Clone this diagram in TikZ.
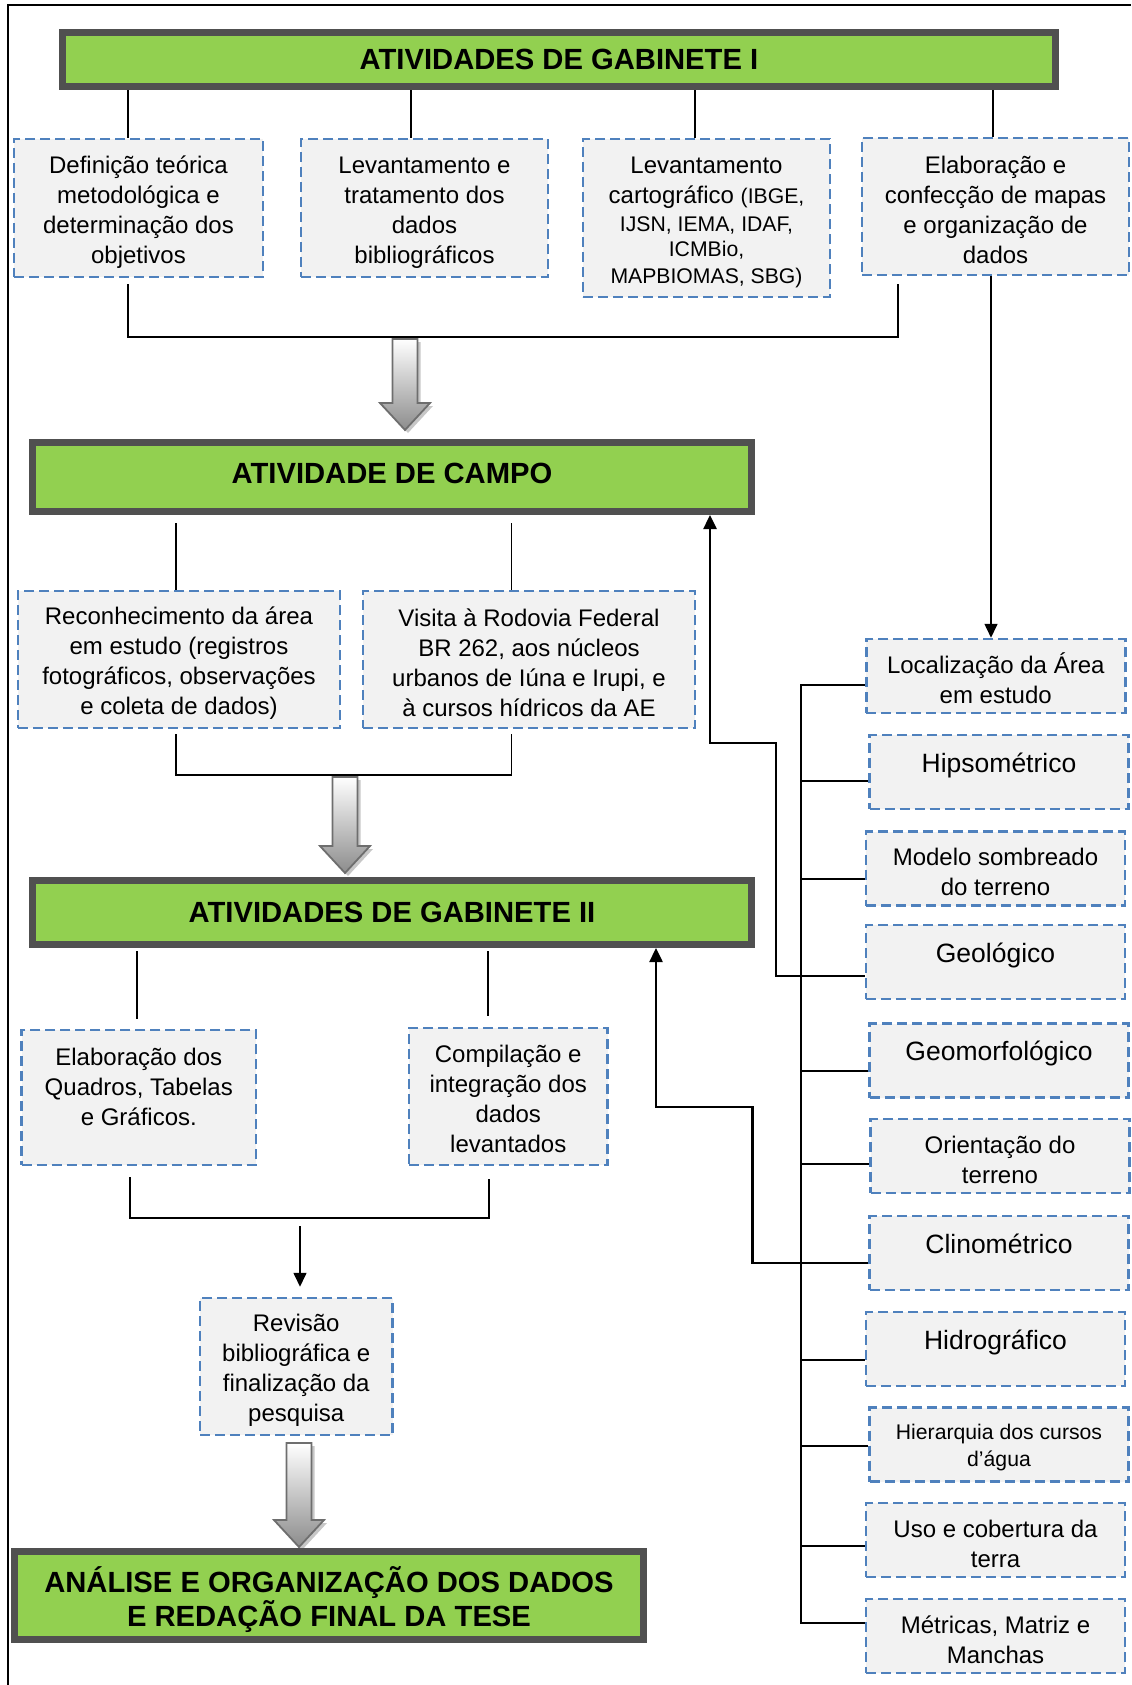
\documentclass[tikz,border=0pt]{standalone}
\usepackage{fontspec}
\setmainfont{Liberation Sans}
\usetikzlibrary{arrows.meta}

\definecolor{boxblue}{RGB}{79,129,189}
\definecolor{boxfill}{RGB}{242,242,242}
\definecolor{titlegreen}{RGB}{146,208,80}
\definecolor{titleedge}{RGB}{80,80,80}
\definecolor{arrowedge}{RGB}{110,110,110}

\newcommand\txtbody{\fontsize{12}{15}\selectfont}
\newcommand\txttitle{\fontsize{14.6}{17.2}\selectfont\bfseries}
\newcommand\txtsingle{\fontsize{13.25}{16}\selectfont}
\newcommand\txtsmall{\fontsize{10.6}{13.5}\selectfont}
% invisible rule that evens out the height of a first text line
\newcommand\tophang[1][12.5pt]{\rule{0pt}{#1}}

\tikzset{
  titlebox/.style={draw=titleedge, line width=3.5pt, fill=titlegreen,
    font=\txttitle, align=center, inner sep=0pt},
  dbox/.style={draw=boxblue, line width=1.25pt, dash pattern=on 5pt off 2.5pt,
    fill=boxfill, font=\txtbody, align=center, inner sep=0pt},
  rbox/.style={dbox, minimum width=129.5pt, minimum height=37pt},
  single/.style={font=\txtsingle, text height=9pt, text depth=9pt},
  boxtext/.style={font=\txtbody, align=center, inner sep=0pt},
  wire/.style={line width=0.8pt, black},
  flow/.style={line width=1.25pt, black},
  tip/.style={-{Triangle[length=7pt,width=6.5pt]}},
  % block arrow with a soft shadow; #1 = total length from shaft top to tip
  pics/fatarrow/.style={code={
    \fill[black!22, shift={(3,3)}]
      (-12.5,0) -- (-12.5,#1-27) -- (-25,#1-27) -- (0,#1) -- (25,#1-27)
      -- (12.5,#1-27) -- (12.5,0) -- cycle;
    \draw[arrowedge, line width=0.9pt, top color=white, bottom color=black!45]
      (-12.5,0) -- (-12.5,#1-27) -- (-25,#1-27) -- (0,#1) -- (25,#1-27)
      -- (12.5,#1-27) -- (12.5,0) -- cycle;
  }}
}

\begin{document}
\begin{tikzpicture}[x=0.5pt,y=-0.5pt]
\useasboundingbox (0,0) rectangle (1131,1685);

% page frame
\draw[line width=1pt] (8,1685) -- (8,5) -- (1131,5);

% ---------- first office stage ----------
\node[titlebox, minimum width=496.5pt, minimum height=27pt] (gab1) at (559,59.5)
  {ATIVIDADES DE GABINETE I};

\node[dbox, minimum width=124.5pt, minimum height=69pt] (defin) at (138.5,208)
  {\tophang Definição teórica\\metodológica e\\determinação dos\\objetivos};
\node[dbox, minimum width=123.5pt, minimum height=69pt] (biblio) at (424.5,208)
  {\tophang Levantamento e\\tratamento dos\\dados\\bibliográficos};
\node[dbox, minimum width=123.5pt, minimum height=79pt] (carto) at (706.5,218)
  {\tophang Levantamento\\cartográfico {\txtsmall(IBGE,}\\[-1pt]{\txtsmall IJSN, IEMA, IDAF,}\\[-2.25pt]{\txtsmall ICMBio,}\\[-1.5pt]{\txtsmall MAPBIOMAS, SBG)}};
\node[dbox, minimum width=133.5pt, minimum height=68.5pt] (mapas) at (995.5,206.5)
  {\tophang Elaboração e\\confecção de mapas\\e organização de\\dados};

\draw[wire] ([xshift=-5.25pt]defin.north) -- ([xshift=-5.25pt]defin.north |- gab1.south);
\draw[wire] ([xshift=-6.75pt]biblio.north) -- ([xshift=-6.75pt]biblio.north |- gab1.south);
\draw[wire] ([xshift=-5.75pt]carto.north) -- ([xshift=-5.75pt]carto.north |- gab1.south);
\draw[wire] ([xshift=-1.25pt]mapas.north) -- ([xshift=-1.25pt]mapas.north |- gab1.south);

\draw[wire] ([xshift=-5.25pt,yshift=-3pt]defin.south) -- ++(0,53)
  -| ([xshift=18.5pt,yshift=-4pt]mapas.south west);

\pic at (405,339) {fatarrow=91};

% ---------- field stage ----------
\node[titlebox, minimum width=359.5pt, minimum height=34.5pt, text depth=4pt] (campo) at (392,477)
  {ATIVIDADE DE CAMPO};

\node[dbox, minimum width=161pt, minimum height=68.5pt] (reco) at (179,659.5)
  {\tophang Reconhecimento da área\\em estudo (registros\\fotográficos, observações\\e coleta de dados)};
\node[dbox, minimum width=166pt, minimum height=68.5pt] (visita) at (529,659.5)
  {\tophang Visita à Rodovia Federal\\BR 262, aos núcleos\\urbanos de Iúna e Irupi, e\\à cursos hídricos da AE};

\draw[wire] ([xshift=-1.5pt]reco.north) -- ([xshift=-1.5pt,yshift=-4pt]reco.north |- campo.south);
\draw[wire] ([xshift=-8.75pt]visita.north) -- ([xshift=-8.75pt,yshift=-4pt]visita.north |- campo.south);

\draw[wire] ([xshift=-1.5pt,yshift=-2.5pt]reco.south) -- ++(0,41)
  -| ([xshift=-8.75pt,yshift=-2.5pt]visita.south);

\pic at (345,777) {fatarrow=96};

% ---------- second office stage ----------
\node[titlebox, minimum width=359.5pt, minimum height=32pt] (gab2) at (392,912.5)
  {ATIVIDADES DE GABINETE II};

\node[dbox, minimum width=117.2pt, minimum height=67.5pt,
  label={[boxtext, yshift=5.25pt]center:Elaboração dos\\Quadros, Tabelas\\e Gráficos.}]
  (quad) at (138.8,1097.5) {};
\node[dbox, minimum width=99.25pt, minimum height=68.5pt] (comp) at (508.25,1096.5)
  {\tophang[11.5pt]Compilação e\\integração dos\\dados\\levantados};

\draw[wire] ([xshift=-0.9pt,yshift=5pt]quad.north) -- ([xshift=-0.9pt,yshift=-1.5pt]quad.north |- gab2.south);
\draw[wire] ([xshift=-10.1pt,yshift=5.5pt]comp.north) -- ([xshift=-10.1pt,yshift=-1.5pt]comp.north |- gab2.south);

\draw[wire] ([xshift=-4.4pt,yshift=-5.5pt]quad.south) -- ++(0,41)
  -| ([xshift=-9.6pt,yshift=-6.5pt]comp.south);

\node[dbox, minimum width=96.25pt, minimum height=68.5pt] (rev) at (296.25,1366.5)
  {\tophang Revisão\\bibliográfica e\\finalização da\\pesquisa};

\coordinate (revfeed) at (300,1226);
\draw[wire, tip] (revfeed) -- ([yshift=5pt]revfeed |- rev.north);

\pic at (299,1443) {fatarrow=104};

\node[titlebox, minimum width=314.5pt, minimum height=44pt,
  label={[font=\txttitle, align=center, inner sep=0pt, yshift=-2pt]center:ANÁLISE E ORGANIZAÇÃO DOS DADOS\\E REDAÇÃO FINAL DA TESE}]
  (final) at (329,1595.5) {};

% ---------- map products ----------
\node[rbox] (loc) at (995.75,676) {\tophang Localização da Área\\em estudo};
\node[rbox, single] (hip) at (999,772) {Hipsométrico};
\node[rbox] (mod) at (995.5,868.5) {\tophang Modelo sombreado\\do terreno};
\node[rbox, single] (geo) at (995.5,962) {Geológico};
\node[rbox, single] (geom) at (999,1060.5) {Geomorfológico};
\node[rbox] (ori) at (1000,1156) {\tophang Orientação do\\terreno};
\node[rbox, single] (cli) at (999,1253) {Clinométrico};
\node[rbox, single] (hid) at (995.5,1349) {Hidrográfico};
\node[rbox, font=\txtsmall] (hie) at (999,1444.5) {\tophang[11pt]Hierarquia dos cursos\\d’água};
\node[rbox] (uso) at (995.5,1540) {\tophang Uso e cobertura da\\terra};
\node[rbox] (met) at (995.5,1636) {\tophang Métricas, Matriz e\\Manchas};

\draw[wire, tip] ([xshift=-2.25pt]mapas.south) -- ([xshift=-2.25pt]mapas.south |- loc.north);

\coordinate (bus) at (801,685);
\draw[wire] ([yshift=-4.5pt]loc.west) -- ([yshift=-4.5pt]loc.west -| bus)
  |- ([yshift=6.5pt]met.west);
\foreach \n/\s in {hip/-4.5pt, mod/-5.25pt, geom/-5.25pt, ori/-4pt,
                   hid/-5.5pt, hie/-0.75pt, uso/-3pt}
  \draw[wire] ([yshift=\s]\n.west) -- ([yshift=\s]\n.west -| bus);

% feedback to the field and second office stages
\coordinate (k1) at (776,743);
\coordinate (k2) at (710,0);
\draw[flow, tip] ([yshift=-7pt]geo.west) -| (k1) -| (k2 |- campo.south);

\coordinate (k3) at (752.5,1107);
\coordinate (k4) at (656,0);
\draw[flow, tip] ([yshift=-5pt]cli.west) -| (k3) -| (k4 |- gab2.south);
\end{tikzpicture}
\end{document}
